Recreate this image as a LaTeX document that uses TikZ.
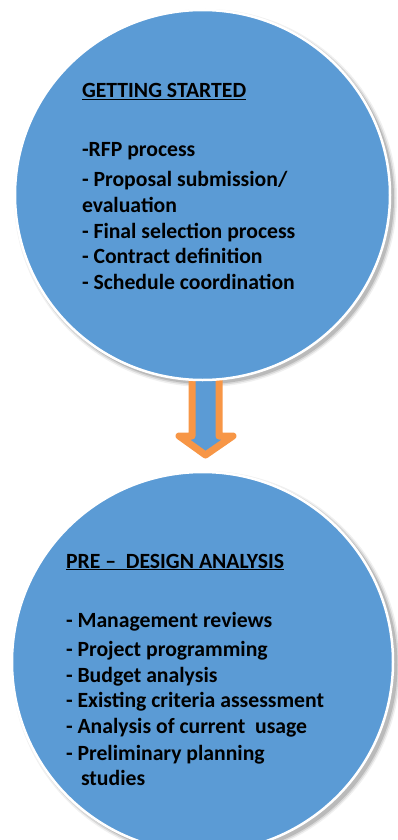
\documentclass[tikz,border=0pt]{standalone}
\usepackage{fontspec}
\setmainfont{Carlito}
\usetikzlibrary{shapes.geometric,calc}
\definecolor{bubblue}{HTML}{5B9BD5}
\definecolor{arroworange}{HTML}{F79646}
\begin{document}
\begin{tikzpicture}[x=1pt,y=-1pt]
\tikzset{
  bub/.style={ellipse, fill=bubblue, draw=white, line width=2.5pt, inner sep=0pt, outer sep=0pt},
  txt/.style={anchor=base west, inner sep=0pt, outer sep=0pt, text=black,
              font=\fontsize{21.7}{26}\selectfont\bfseries},
  arr/.style={draw=arroworange, fill=bubblue, line width=7pt, line join=round}
}
\useasboundingbox (0,0) rectangle (398,840);
\clip (0,0) rectangle (398,840);
% shadows
\foreach \e/\o in {4/0.06,2.5/0.10,1/0.14}{
  \fill[black, opacity=\o] (205.5,198) ellipse [x radius={187.5pt+\e pt}, y radius={185pt+\e pt}];
  \fill[black, opacity=\o] (206,665) ellipse [x radius={190.5pt+\e pt}, y radius={190pt+\e pt}];
}
% arrow (drawn below the upper circle)
\coordinate (tip) at (205.5,455);
\draw[arr] ($(tip)+(-13.5,-87)$) -- ($(tip)+(-13.5,-19)$) -- ($(tip)+(-26.5,-19)$)
   -- (tip) -- ($(tip)+(27.5,-19)$) -- ($(tip)+(13.5,-19)$) -- ($(tip)+(13.5,-87)$) -- cycle;
% circles
\node[bub, minimum width=375pt, minimum height=370pt] (c1) at (202.5,195) {};
\node[bub, minimum width=381pt, minimum height=380pt] (c2) at (202.5,662) {};
% texts, upper circle
\node[txt] (t0) at (82,98) {\underline{GETTING STARTED}};
\node[txt] (t1) at (82,157) {-RFP process};
\node[txt] (t2) at (82,186) {- Proposal submission/};
\node[txt] (t3) at (82,212) {evaluation};
\node[txt] (t4) at (82,238) {- Final selection process};
\node[txt] (t5) at (82,263) {- Contract definition};
\node[txt] (t6) at (82,289) {- Schedule coordination};
% texts, lower circle
\node[txt] (b0) at (66,568) {\underline{PRE –\ \ DESIGN ANALYSIS}};
\node[txt] (b1) at (66,627) {- Management reviews};
\node[txt] (b2) at (66,656) {- Project programming};
\node[txt] (b3) at (66,682) {- Budget analysis};
\node[txt] (b4) at (66,707) {- Existing criteria assessment};
\node[txt] (b5) at (66,733) {- Analysis of current\ \ usage};
\node[txt] (b6) at (66,760) {- Preliminary planning};
\node[txt] (b7) at (81,785) {studies};
\end{tikzpicture}
\end{document}
